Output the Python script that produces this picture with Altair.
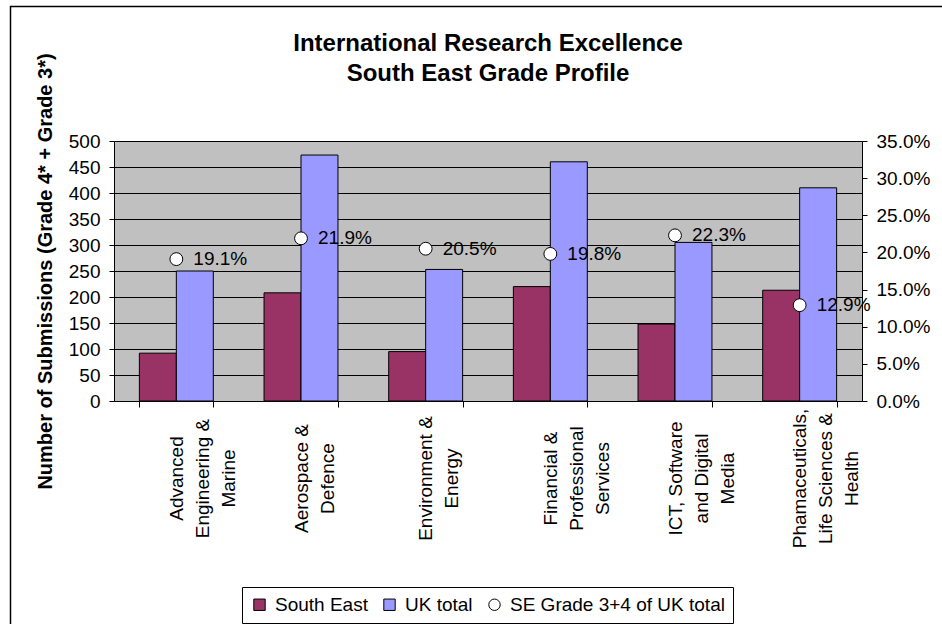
import altair as alt
import pandas as pd

# Sector names, one list of text lines per axis label
sector_lines = [
    ["Advanced", "Engineering &", "Marine"],
    ["Aerospace &", "Defence"],
    ["Environment &", "Energy"],
    ["Financial &", "Professional", "Services"],
    ["ICT, Software", "and Digital", "Media"],
    ["Phamaceuticals,", "Life Sciences &", "Health"],
]
sectors = ["\n".join(lines) for lines in sector_lines]

# Submissions (Grade 4* + Grade 3*)
south_east = [92, 208, 95, 220, 148, 213]
uk_total = [250, 473, 253, 460, 305, 410]
# South East share of the UK Grade 3+4 total
se_share = [0.191, 0.219, 0.205, 0.198, 0.223, 0.129]

series_names = ["South East", "UK total", "SE Grade 3+4 of UK total"]
series_colors = ["#993366", "#9999FF", "#FFFFFF"]
series_shapes = ["square", "square", "circle"]

left_ticks = [0, 50, 100, 150, 200, 250, 300, 350, 400, 450, 500]
right_ticks = [0, 0.05, 0.1, 0.15, 0.2, 0.25, 0.3, 0.35]

bar_df = pd.DataFrame(
    {
        "sector": sectors * 2,
        "series": [series_names[0]] * len(sectors) + [series_names[1]] * len(sectors),
        "value": south_east + uk_total,
    }
)
share_df = pd.DataFrame(
    {"sector": sectors, "series": [series_names[2]] * len(sectors), "share": se_share}
)

FONT = "Liberation Sans"

legend = alt.Legend(
    title=None,
    orient="none",
    direction="horizontal",
    legendX=128,
    legendY=446,
    padding=8,
    strokeColor="black",
    fillColor="white",
    labelFont=FONT,
    labelFontSize=19,
    labelColor="black",
    labelLimit=400,
    labelOffset=6,
    columnPadding=12,
    symbolSize=130,
    symbolStrokeColor="black",
    symbolStrokeWidth=1,
)
color_scale = alt.Scale(domain=series_names, range=series_colors)
shape_scale = alt.Scale(domain=series_names, range=series_shapes)

x_enc = alt.X(
    "sector:N",
    sort=sectors,
    scale=alt.Scale(paddingInner=0.407, paddingOuter=0.2035),
    axis=alt.Axis(
        title=None,
        labelExpr="split(datum.label, '\\n')",
        labelAngle=270,
        labelAlign="center",
        labelBaseline="middle",
        labelPadding=71,
        labelFontSize=19,
        labelLineHeight=26,
        labelLimit=400,
        labelOverlap=False,
        labelColor="black",
        tickBand="extent",
        tickSize=6,
        tickColor="black",
        domainColor="black",
    ),
)

bars = alt.Chart(bar_df).mark_bar(stroke="black", strokeWidth=1).encode(
    x=x_enc,
    xOffset=alt.XOffset(
        "series:N", sort=series_names[:2], scale=alt.Scale(paddingInner=0, paddingOuter=0)
    ),
    y=alt.Y(
        "value:Q",
        scale=alt.Scale(domain=[0, 500], nice=False),
        axis=alt.Axis(
            values=left_ticks,
            title="Number of Submissions (Grade 4* + Grade 3*)",
            titleFontSize=20,
            titleFontWeight="bold",
            titleColor="black",
            titleAngle=270,
            titleAlign="center",
            titleBaseline="middle",
            titleX=-69,
            titleY=130,
            labelFontSize=19,
            labelColor="black",
            labelPadding=9,
            tickSize=5,
            tickColor="black",
            domainColor="black",
            grid=True,
            gridColor="black",
            gridWidth=1,
        ),
    ),
    color=alt.Color("series:N", scale=color_scale, legend=legend),
)

share_y = alt.Y(
    "share:Q",
    scale=alt.Scale(domain=[0, 0.35], nice=False),
    axis=alt.Axis(
        orient="right",
        values=right_ticks,
        format=".1%",
        title=None,
        labelFontSize=19,
        labelColor="black",
        labelPadding=9,
        tickSize=5,
        tickColor="black",
        domainColor="black",
        grid=False,
    ),
)

points = alt.Chart(share_df).mark_point(
    filled=True, stroke="black", strokeWidth=1, size=165, opacity=1
).encode(
    x=x_enc,
    y=share_y,
    color=alt.Color("series:N", scale=color_scale, legend=legend),
    shape=alt.Shape("series:N", scale=shape_scale, legend=legend),
)

share_labels = alt.Chart(share_df).mark_text(
    align="left", baseline="middle", dx=17, fontSize=19, font=FONT, color="black"
).encode(
    x=x_enc,
    y=share_y,
    text=alt.Text("share:Q", format=".1%"),
)

# Outer chart-area frame
frame = alt.Chart(pd.DataFrame({"f": [0]})).mark_rect(
    fill="transparent", stroke="black", strokeWidth=1.5
).encode(
    x=alt.value(-103.5),
    x2=alt.value(900),
    y=alt.value(-134.5),
    y2=alt.value(600),
)

chart = (
    alt.layer(frame, bars, alt.layer(points, share_labels))
    .resolve_scale(y="independent")
    .properties(
        width=748,
        height=260,
        autosize=alt.AutoSizeParams(type="none"),
        padding={"left": 114, "top": 141, "right": 80, "bottom": 223},
        background="white",
        title=alt.TitleParams(
            ["International Research Excellence", "South East Grade Profile"],
            font=FONT,
            fontSize=24,
            fontWeight="bold",
            color="black",
            anchor="middle",
            frame="group",
            baseline="bottom",
            lineHeight=30,
            offset=-104,
        ),
    )
    .configure_view(fill="#C0C0C0", stroke="#808080", strokeWidth=1)
    .configure_axis(labelFont=FONT, titleFont=FONT)
)

chart.save("out.html", embed_options={"renderer": "svg", "actions": False})
